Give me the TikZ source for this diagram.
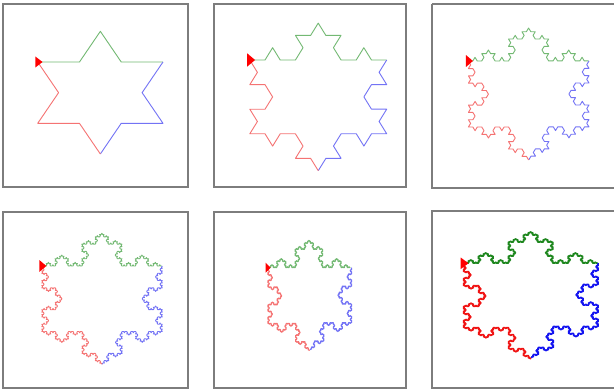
\documentclass[tikz,border=0pt]{standalone}
\usetikzlibrary{lindenmayersystems}
\pgfdeclarelindenmayersystem{Koch}{\rule{F -> F+F--F+F}}
\definecolor{lg}{RGB}{115,185,115}
\definecolor{lb}{RGB}{115,115,245}
\definecolor{lr}{RGB}{245,115,115}
\definecolor{dg}{RGB}{30,135,30}
\definecolor{db}{RGB}{20,20,240}
\definecolor{dr}{RGB}{240,20,20}
\definecolor{framegray}{RGB}{125,125,125}
\tikzset{
  frame/.style={draw=framegray, line width=1.2pt},
  liteg/.style={lg, line width=0.9pt, line join=round},
  liteb/.style={lb, line width=0.9pt, line join=round},
  liter/.style={lr, line width=0.9pt, line join=round},
  darkg/.style={dg, line width=1.3pt, line join=round},
  darkb/.style={db, line width=1.3pt, line join=round},
  darkr/.style={dr, line width=1.3pt, line join=round},
  turtle/.style={fill=red},
}
% #1 Ax, #2 Ay (pixels from top), #3 width, #4 height, #5 order, #6 step, #7 style prefix
\newcommand\kochpanel[7]{%
\begin{scope}[shift={(#1,390-#2)}, xscale=#3/729, yscale=#4/631.33]
  \draw[#7g] (0,0) [l-system={Koch, axiom=F, order=#5, step=#6pt, angle=60}] lindenmayer system;
  \begin{scope}[shift={(729,0)}, rotate=-120]
    \draw[#7b] (0,0) [l-system={Koch, axiom=F, order=#5, step=#6pt, angle=60}] lindenmayer system;
  \end{scope}
  \begin{scope}[shift={(364.5,-631.33)}, rotate=120]
    \draw[#7r] (0,0) [l-system={Koch, axiom=F, order=#5, step=#6pt, angle=60}] lindenmayer system;
  \end{scope}
  \fill[turtle] (-14,38) -- (-14,-38) -- (28,0) -- cycle;
\end{scope}}
\begin{document}
\begin{tikzpicture}[x=1pt,y=1pt]
\useasboundingbox[fill=white] (0,0) rectangle (614,390);
% frames
\draw[frame] (3,390-4) rectangle (188,390-187);
\draw[frame] (214,390-4) rectangle (406,390-187);
\draw[frame] (432,390-4) -- (616,390-4);
\draw[frame] (432,390-4) -- (432,390-188) -- (616,390-188);
\draw[frame] (3,390-212) rectangle (188,390-388);
\draw[frame] (214,390-212) rectangle (406,390-388);
\draw[frame] (616,390-211) -- (432,390-211) -- (432,390-388) -- (616,390-388);
% snowflakes
\kochpanel{37.7}{62}{125.3}{92}{1}{243}{lite}
\kochpanel{249.8}{60}{136.9}{110.7}{2}{81}{lite}
\kochpanel{468.3}{61}{120.7}{99}{3}{27}{lite}
\kochpanel{41.7}{266}{120.6}{98.3}{4}{9}{lite}
\kochpanel{267.3}{267.7}{84.4}{83}{5}{3}{lite}
\kochpanel{463.3}{263.3}{135}{95.7}{6}{1}{dark}
\end{tikzpicture}
\end{document}
